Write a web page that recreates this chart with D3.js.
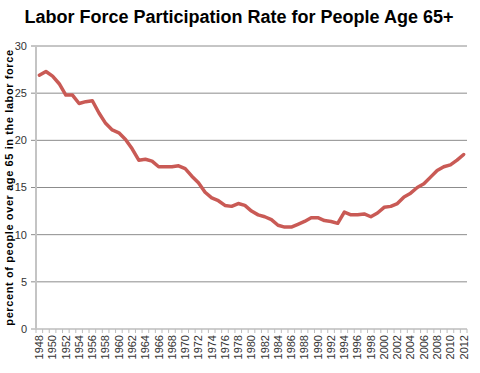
<!DOCTYPE html>
<html>
<head>
<meta charset="utf-8">
<script src="https://cdn.jsdelivr.net/npm/d3@7"></script>
<style>
  body { margin: 0; background: #fff; }
  text { font-family: "Liberation Sans", Arial, sans-serif; }
</style>
</head>
<body>
<svg id="chart" width="480" height="373"></svg>
<script>
// years 1948..2012
const years = d3.range(1948, 2013);
const rates = [
  26.9, 27.3, 26.8, 26.0, 24.8, 24.8, 23.9, 24.1, 24.2, 22.9,
  21.8, 21.1, 20.8, 20.1, 19.1, 17.9, 18.0, 17.8, 17.2, 17.2,
  17.2, 17.3, 17.0, 16.2, 15.5, 14.5, 13.9, 13.6, 13.1, 13.0,
  13.3, 13.1, 12.5, 12.1, 11.9, 11.6, 11.0, 10.8, 10.8, 11.1,
  11.4, 11.8, 11.8, 11.5, 11.4, 11.2, 12.4, 12.1, 12.1, 12.2,
  11.9, 12.3, 12.9, 13.0, 13.3, 14.0, 14.4, 15.0, 15.4, 16.1,
  16.8, 17.2, 17.4, 17.9, 18.5
];
const yTicks = [0, 5, 10, 15, 20, 25, 30];
const labelYears = years.filter(y => (y - 1948) % 2 === 0);

const title = 'Labor Force Participation Rate for People Age 65+';
const yTitle = 'percent of people over age 65 in the labor force';

const svg = d3.select('#chart');
const plotLeft = 36, plotRight = 467, plotTop = 46, plotBottom = 329;

const x = d3.scaleBand().domain(years).range([plotLeft, plotRight]);
const y = d3.scaleLinear().domain([0, 30]).range([plotBottom, plotTop]);

// gridlines
svg.append('g')
  .selectAll('line')
  .data(yTicks.filter(d => d > 0))
  .join('line')
  .attr('x1', plotLeft - 5)
  .attr('x2', plotRight)
  .attr('y1', d => y(d))
  .attr('y2', d => y(d))
  .attr('stroke', '#8c8c8c')
  .attr('stroke-width', 1);

// y tick labels
svg.append('g')
  .selectAll('text')
  .data(yTicks)
  .join('text')
  .attr('x', 27)
  .attr('y', d => y(d))
  .attr('dy', '0.35em')
  .attr('text-anchor', 'end')
  .style('font-size', '11px')
  .style('fill', '#333')
  .text(d => d);

// x axis line + yearly ticks
svg.append('line')
  .attr('x1', plotLeft - 5).attr('x2', plotRight)
  .attr('y1', plotBottom).attr('y2', plotBottom)
  .attr('stroke', '#bdbdbd').attr('stroke-width', 1.5);

svg.append('g')
  .selectAll('line')
  .data(years.concat([2013]))
  .join('line')
  .attr('x1', d => d === 2013 ? plotRight : x(d))
  .attr('x2', d => d === 2013 ? plotRight : x(d))
  .attr('y1', plotBottom)
  .attr('y2', plotBottom + 4)
  .attr('stroke', '#bdbdbd')
  .attr('stroke-width', 1);

// y axis line
svg.append('line')
  .attr('x1', plotLeft).attr('x2', plotLeft)
  .attr('y1', plotTop).attr('y2', plotBottom + 1)
  .attr('stroke', '#c4c4c4').attr('stroke-width', 2);

// x labels (rotated)
svg.append('g')
  .selectAll('text')
  .data(labelYears)
  .join('text')
  .attr('transform', d => `translate(${x(d) + x.bandwidth() / 2},${plotBottom + 6}) rotate(-90)`)
  .attr('dy', '0.35em')
  .attr('text-anchor', 'end')
  .style('font-size', '11px')
  .style('fill', '#333')
  .text(d => d);

// data line
const line = d3.line()
  .x((d, i) => x(years[i]) + x.bandwidth() / 2)
  .y(d => y(d));

svg.append('path')
  .datum(rates)
  .attr('d', line)
  .attr('fill', 'none')
  .attr('stroke', '#c95a55')
  .attr('stroke-width', 3.5)
  .attr('stroke-linejoin', 'round')
  .attr('stroke-linecap', 'round');

// title
svg.append('text')
  .attr('x', 239)
  .attr('y', 23)
  .attr('text-anchor', 'middle')
  .style('font-size', '18px')
  .style('font-weight', 'bold')
  .style('fill', '#000')
  .text(title);

// y title
svg.append('text')
  .attr('transform', `translate(9,${(plotTop + plotBottom) / 2}) rotate(-90)`)
  .attr('text-anchor', 'middle')
  .attr('dy', '0.35em')
  .style('font-size', '11px')
  .style('letter-spacing', '0.6px')
  .style('font-weight', 'bold')
  .style('fill', '#000')
  .text(yTitle);
</script>
</body>
</html>
